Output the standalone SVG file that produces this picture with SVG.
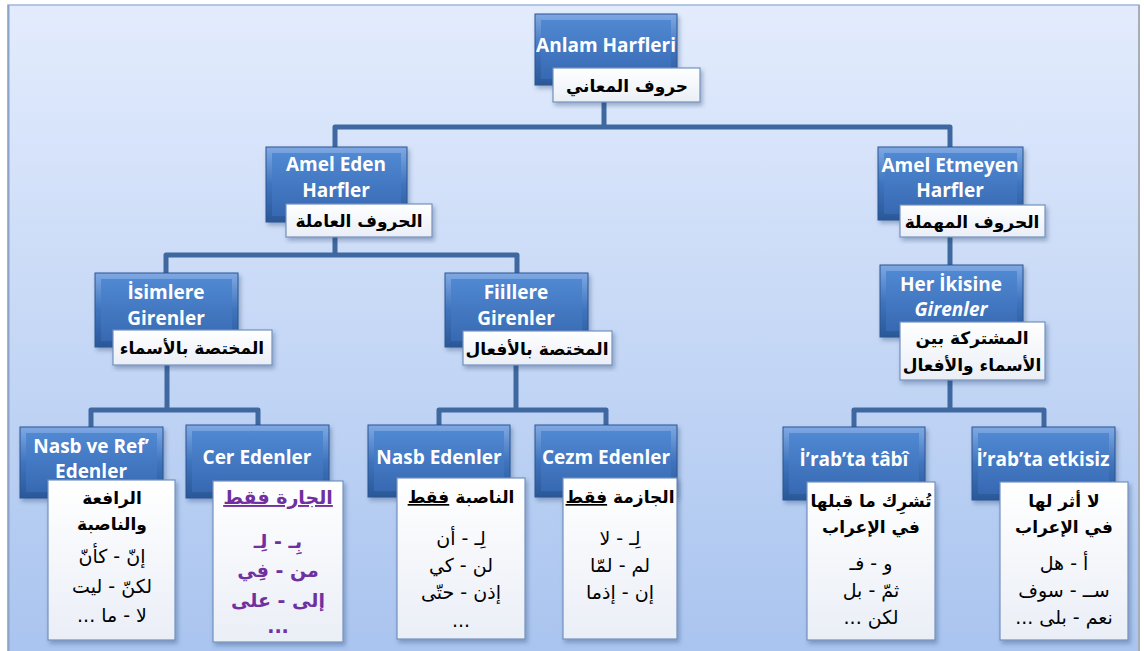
<svg xmlns="http://www.w3.org/2000/svg" width="1144" height="651" viewBox="0 0 1144 651">
<defs>
<linearGradient id="gBg" x1="0" y1="0" x2="0" y2="1">
<stop offset="0" stop-color="#e3ecfd"/><stop offset="1" stop-color="#a9c4ef"/>
</linearGradient>
<linearGradient id="gOut" x1="0" y1="0" x2="0" y2="1">
<stop offset="0" stop-color="#7fa9e4"/><stop offset="0.5" stop-color="#3f74bd"/><stop offset="1" stop-color="#2a5898"/>
</linearGradient>
<linearGradient id="gIn" x1="0" y1="0" x2="0" y2="1">
<stop offset="0" stop-color="#5088d2"/><stop offset="1" stop-color="#3769b2"/>
</linearGradient>
<linearGradient id="gW" x1="0" y1="0" x2="0" y2="1">
<stop offset="0" stop-color="#ffffff"/><stop offset="1" stop-color="#eaeef6"/>
</linearGradient>
<filter id="sh" x="-10%" y="-10%" width="125%" height="130%">
<feDropShadow dx="2" dy="3" stdDeviation="2" flood-color="#1e3a66" flood-opacity="0.35"/>
</filter>
</defs>
<style>
.bo{fill:url(#gOut);stroke:#2b5592;stroke-width:1;filter:url(#sh)}
.bi{fill:url(#gIn)}
.lb{fill:url(#gW);stroke:#7391bf;stroke-width:1.2;filter:url(#sh)}
.t{font-family:"Open Sans","DejaVu Sans",sans-serif;font-weight:700;font-size:19px;fill:#ffffff;text-anchor:middle}
.ti{font-style:italic}
.ah{font-family:"DejaVu Sans",sans-serif;font-weight:700;font-size:17px;fill:#000;text-anchor:middle;direction:rtl}
.ar{font-family:"DejaVu Sans",sans-serif;font-size:19px;fill:#000;text-anchor:middle;direction:rtl}
.ap{font-family:"DejaVu Sans",sans-serif;font-weight:700;font-size:19px;fill:#7030a0;text-anchor:middle;direction:rtl}
.u{text-decoration:underline}
.cn{fill:none;stroke:#3e689f;stroke-width:5;stroke-linejoin:round}
</style>
<rect x="8" y="5" width="1131" height="650" fill="url(#gBg)" stroke="#9fb5da" stroke-width="1.5"/>
<line x1="8.5" y1="5" x2="8.5" y2="651" stroke="#8da4c9" stroke-width="2"/>
<line x1="1139" y1="5" x2="1139" y2="651" stroke="#a8acb4" stroke-width="2"/>

<g id="connectors">
<path class="cn" d="M604,102 V127 M335,147 V127 H950 V147"/>
<path class="cn" d="M335,237 V255 M166,273 V255 H517 V273"/>
<path class="cn" d="M950,237 V265"/>
<path class="cn" d="M167,365 V410 M91,427 V410 H258 V425"/>
<path class="cn" d="M516,365 V410 M439,425 V410 H606 V425"/>
<path class="cn" d="M950,380 V410 M854,427 V410 H1044 V427"/>
</g>

<g id="n-root">
<rect class="bo" x="535" y="14" width="142" height="71"/>
<rect class="bi" x="541" y="20" width="130" height="59"/>
<text class="t" x="606" y="52">Anlam Harfleri</text>
<rect class="lb" x="553" y="68" width="147" height="34"/>
<text class="ah" x="627" y="92">حروف المعاني</text>
</g>

<g id="n-amel">
<rect class="bo" x="266" y="147" width="141" height="75"/>
<rect class="bi" x="272" y="153" width="129" height="63"/>
<text class="t" x="336" y="171">Amel Eden</text>
<text class="t" x="336" y="197">Harfler</text>
<rect class="lb" x="286" y="204" width="146" height="33"/>
<text class="ah" x="359" y="227">الحروف العاملة</text>
</g>

<g id="n-muhmal">
<rect class="bo" x="878" y="147" width="145" height="73"/>
<rect class="bi" x="884" y="153" width="133" height="61"/>
<text class="t" x="950" y="172">Amel Etmeyen</text>
<text class="t" x="950" y="197">Harfler</text>
<rect class="lb" x="900" y="205" width="145" height="32"/>
<text class="ah" x="972" y="228">الحروف المهملة</text>
</g>

<g id="n-isim">
<rect class="bo" x="95" y="273" width="143" height="74"/>
<rect class="bi" x="101" y="279" width="131" height="62"/>
<text class="t" x="166" y="299">İsimlere</text>
<text class="t" x="166" y="325">Girenler</text>
<rect class="lb" x="113" y="330" width="159" height="35"/>
<text class="ah" x="192" y="354">المختصة بالأسماء</text>
</g>

<g id="n-fiil">
<rect class="bo" x="445" y="273" width="143" height="74"/>
<rect class="bi" x="451" y="279" width="131" height="62"/>
<text class="t" x="516" y="299">Fiillere</text>
<text class="t" x="516" y="325">Girenler</text>
<rect class="lb" x="463" y="331" width="149" height="34"/>
<text class="ah" x="537" y="355">المختصة بالأفعال</text>
</g>

<g id="n-mushtarak">
<rect class="bo" x="880" y="265" width="143" height="72"/>
<rect class="bi" x="886" y="271" width="131" height="60"/>
<text class="t" x="951" y="291">Her İkisine</text>
<text class="t ti" x="951" y="316">Girenler</text>
<rect class="lb" x="900" y="322" width="145" height="58"/>
<text class="ah" x="972" y="344">المشتركة بين</text>
<text class="ah" x="972" y="371">الأسماء والأفعال</text>
</g>

<g id="n-nasbref">
<rect class="bo" x="20" y="427" width="143" height="71"/>
<rect class="bi" x="26" y="433" width="131" height="59"/>
<text class="t" x="91" y="453">Nasb ve Ref’</text>
<text class="t" x="91" y="478">Edenler</text>
<rect class="lb" x="48" y="480" width="127" height="160"/>
<text class="ah" x="112" y="504">الرافعة</text>
<text class="ah" x="112" y="530">والناصبة</text>
<text class="ar" x="112" y="563">إنّ - كأنّ</text>
<text class="ar" x="112" y="593">لكنّ - ليت</text>
<text class="ar" x="112" y="622">لا - ما ...</text>
</g>

<g id="n-cer">
<rect class="bo" x="186" y="425" width="143" height="73"/>
<rect class="bi" x="192" y="431" width="131" height="61"/>
<text class="t" x="257" y="464">Cer Edenler</text>
<rect class="lb" x="213" y="481" width="130" height="161"/>
<text class="ap" x="278" y="504"><tspan class="u">الجارة فقط</tspan></text>
<text class="ap" x="278" y="548">بِـ - لِـ</text>
<text class="ap" x="278" y="577">من - فِي</text>
<text class="ap" x="278" y="607">إلى - على</text>
<text class="ap" x="278" y="633">...</text>
</g>

<g id="n-nasb">
<rect class="bo" x="368" y="425" width="142" height="72"/>
<rect class="bi" x="374" y="431" width="130" height="60"/>
<text class="t" x="439" y="464">Nasb Edenler</text>
<rect class="lb" x="397" y="478" width="128" height="161"/>
<text class="ah" x="461" y="503">الناصبة <tspan class="u">فقط</tspan></text>
<text class="ar" x="461" y="545">لِـ - أن</text>
<text class="ar" x="461" y="572">لن - كي</text>
<text class="ar" x="461" y="599">إذن - حتّى</text>
<text class="ar" x="461" y="627">...</text>
</g>

<g id="n-cezm">
<rect class="bo" x="535" y="425" width="142" height="72"/>
<rect class="bi" x="541" y="431" width="130" height="60"/>
<text class="t" x="606" y="464">Cezm Edenler</text>
<rect class="lb" x="563" y="478" width="114" height="161"/>
<text class="ah" x="620" y="503">الجازمة <tspan class="u">فقط</tspan></text>
<text class="ar" x="620" y="545">لِـ - لا</text>
<text class="ar" x="620" y="572">لم - لمّا</text>
<text class="ar" x="620" y="599">إن - إذما</text>
</g>

<g id="n-tabi">
<rect class="bo" x="783" y="427" width="142" height="73"/>
<rect class="bi" x="789" y="433" width="130" height="61"/>
<text class="t" x="854" y="466">İ’rab’ta tâbî</text>
<rect class="lb" x="807" y="482" width="128" height="158"/>
<text class="ah" x="871" y="507">تُشرِك ما قبلها</text>
<text class="ah" x="871" y="533">في الإعراب</text>
<text class="ar" x="871" y="570">و - فـ</text>
<text class="ar" x="871" y="597">ثمّ - بل</text>
<text class="ar" x="871" y="624">لكن ...</text>
</g>

<g id="n-etkisiz">
<rect class="bo" x="972" y="427" width="143" height="73"/>
<rect class="bi" x="978" y="433" width="131" height="61"/>
<text class="t" x="1043" y="466">İ’rab’ta etkisiz</text>
<rect class="lb" x="1000" y="482" width="128" height="158"/>
<text class="ah" x="1064" y="507">لا أثر لها</text>
<text class="ah" x="1064" y="533">في الإعراب</text>
<text class="ar" x="1064" y="570">أ - هل</text>
<text class="ar" x="1064" y="597">ســ - سوف</text>
<text class="ar" x="1064" y="624">نعم - بلى ...</text>
</g>
</svg>
